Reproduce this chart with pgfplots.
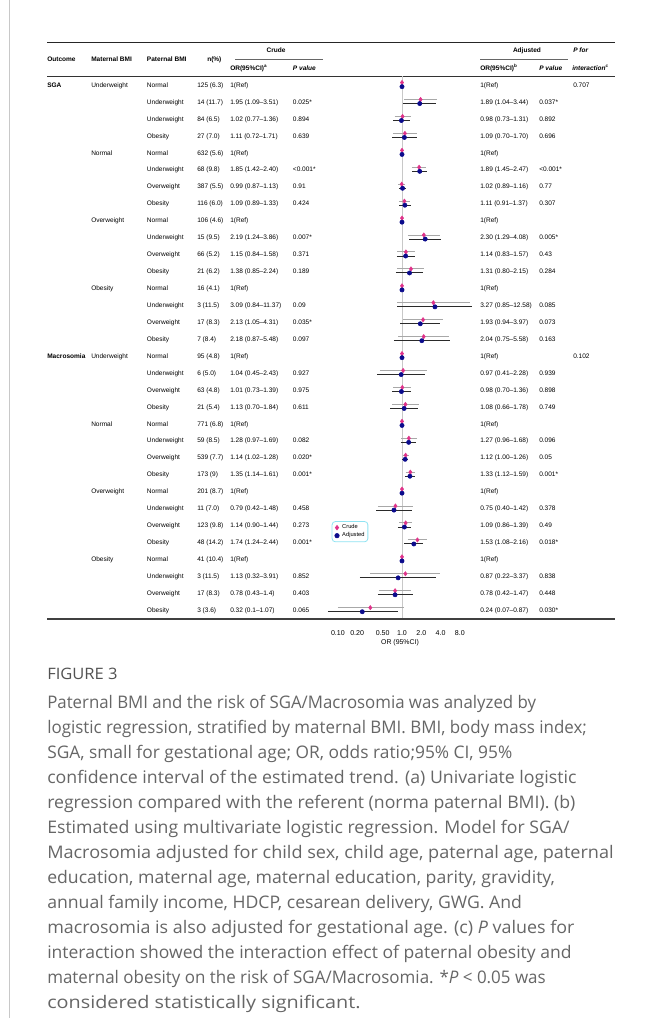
\documentclass[border=0pt]{standalone}
\usepackage{fontspec}
\usepackage{graphicx}
\setmainfont{Liberation Sans}
\newfontfamily\capfont{Open Sans}
\usepackage{pgfplots}
\pgfplotsset{compat=1.18}
\definecolor{crudec}{HTML}{E0338A}
\definecolor{adjc}{HTML}{0B0B8C}
\definecolor{cigrey}{HTML}{A8A8A8}
\definecolor{cidark}{HTML}{2A2A2A}
\definecolor{refline}{HTML}{C8C8C8}
\definecolor{capgrey}{HTML}{666666}
\definecolor{legbord}{HTML}{8FE3F2}
\newcommand{\tf}{\fontsize{4.9}{5.9}\selectfont}
\newcommand{\hf}{\fontsize{4.9}{5.9}\selectfont\bfseries}
\newcommand{\cf}{\capfont\fontsize{13}{15}\selectfont\color{capgrey}}
\tikzset{tc/.style={anchor=base west, inner sep=0pt, font=\tf},
         hc/.style={anchor=base west, inner sep=0pt, font=\hf},
         cl/.style={anchor=base west, inner sep=0pt, font=\cf}}
% row text: #1 row index, #2 paternal BMI, #3 n, #4 crude OR, #5 crude P, #6 adj OR, #7 adj P
\newcommand{\trow}[7]{%
  \node[tc] at (146.7,{85+(#1-1)*16.935+2.3}) {#2};
  \node[tc] at (197,{85+(#1-1)*16.935+2.3}) {#3};
  \node[tc] at (230,{85+(#1-1)*16.935+2.3}) {#4};
  \node[tc] at (292.7,{85+(#1-1)*16.935+2.3}) {#5};
  \node[tc] at (480,{85+(#1-1)*16.935+2.3}) {#6};
  \node[tc] at (539,{85+(#1-1)*16.935+2.3}) {#7};
}
\newcommand{\grp}[2]{\node[tc] at (91,{85+(#1-1)*16.935+2.3}) {#2};}
\newcommand{\capline}[3]{\node[cl] at (47,#1) {\scalebox{#2}[1]{#3}};}
\begin{document}
\begin{tikzpicture}
\begin{scope}[x=0.75pt,y=-0.75pt]
\path[use as bounding box, fill=white] (0,0) rectangle (646,1018);
\draw[refline, line width=0.8pt] (9.5,0) -- (9.5,1018);
% rules
\draw[line width=1.1pt, color=black!85] (47,42.7) -- (615,42.7);
\draw[line width=0.7pt, color=black!80] (47,76.3) -- (615,76.3);
\draw[line width=0.5pt, color=black!60] (235,59.3) -- (323,59.3);
\draw[line width=0.5pt, color=black!60] (480,59.3) -- (568,59.3);
% header
\node[hc] at (47,61.3) {Outcome};
\node[hc] at (91,61.3) {Maternal BMI};
\node[hc] at (146.7,61.3) {Paternal BMI};
\node[hc] at (207,61.3) {n(\%)};
\node[hc, anchor=base] at (276,52.3) {Crude};
\node[hc, anchor=base] at (527,52.3) {Adjusted};
\node[hc] at (573,52.3) {\itshape P for};
\node[hc] at (230,70.5) {OR(95\%CI)\textsuperscript{a}};
\node[hc] at (292.7,70.5) {\itshape P value};
\node[hc] at (480,70.5) {OR(95\%CI)\textsuperscript{b}};
\node[hc] at (539,70.5) {\itshape P value};
\node[hc] at (572,70.5) {\itshape interaction\textsuperscript{c}};
% group labels
\node[hc] at (47,87.3) {SGA};
\node[hc] at (47,{85+16*16.935+2.3}) {Macrosomia};
\grp{1}{Underweight}
\grp{5}{Normal}
\grp{9}{Overweight}
\grp{13}{Obesity}
\grp{17}{Underweight}
\grp{21}{Normal}
\grp{25}{Overweight}
\grp{29}{Obesity}
% rows
\trow{1}{Normal}{125 (6.3)}{1(Ref)}{}{1(Ref)}{}
\trow{2}{Underweight}{14 (11.7)}{1.95 (1.09–3.51)}{0.025*}{1.89 (1.04–3.44)}{0.037*}
\trow{3}{Underweight}{84 (6.5)}{1.02 (0.77–1.36)}{0.894}{0.98 (0.73–1.31)}{0.892}
\trow{4}{Obesity}{27 (7.0)}{1.11 (0.72–1.71)}{0.639}{1.09 (0.70–1.70)}{0.696}
\trow{5}{Normal}{632 (5.6)}{1(Ref)}{}{1(Ref)}{}
\trow{6}{Underweight}{68 (9.8)}{1.85 (1.42–2.40)}{<0.001*}{1.89 (1.45–2.47)}{<0.001*}
\trow{7}{Overweight}{387 (5.5)}{0.99 (0.87–1.13)}{0.91}{1.02 (0.89–1.16)}{0.77}
\trow{8}{Obesity}{116 (6.0)}{1.09 (0.89–1.33)}{0.424}{1.11 (0.91–1.37)}{0.307}
\trow{9}{Normal}{106 (4.6)}{1(Ref)}{}{1(Ref)}{}
\trow{10}{Underweight}{15 (9.5)}{2.19 (1.24–3.86)}{0.007*}{2.30 (1.29–4.08)}{0.005*}
\trow{11}{Overweight}{66 (5.2)}{1.15 (0.84–1.58)}{0.371}{1.14 (0.83–1.57)}{0.43}
\trow{12}{Obesity}{21 (6.2)}{1.38 (0.85–2.24)}{0.189}{1.31 (0.80–2.15)}{0.284}
\trow{13}{Normal}{16 (4.1)}{1(Ref)}{}{1(Ref)}{}
\trow{14}{Underweight}{3 (11.5)}{3.09 (0.84–11.37)}{0.09}{3.27 (0.85–12.58)}{0.085}
\trow{15}{Overweight}{17 (8.3)}{2.13 (1.05–4.31)}{0.035*}{1.93 (0.94–3.97)}{0.073}
\trow{16}{Obesity}{7 (8.4)}{2.18 (0.87–5.48)}{0.097}{2.04 (0.75–5.58)}{0.163}
\trow{17}{Normal}{95 (4.8)}{1(Ref)}{}{1(Ref)}{}
\trow{18}{Underweight}{6 (5.0)}{1.04 (0.45–2.43)}{0.927}{0.97 (0.41–2.28)}{0.939}
\trow{19}{Overweight}{63 (4.8)}{1.01 (0.73–1.39)}{0.975}{0.98 (0.70–1.36)}{0.898}
\trow{20}{Obesity}{21 (5.4)}{1.13 (0.70–1.84)}{0.611}{1.08 (0.66–1.78)}{0.749}
\trow{21}{Normal}{771 (6.8)}{1(Ref)}{}{1(Ref)}{}
\trow{22}{Underweight}{59 (8.5)}{1.28 (0.97–1.69)}{0.082}{1.27 (0.96–1.68)}{0.096}
\trow{23}{Overweight}{539 (7.7)}{1.14 (1.02–1.28)}{0.020*}{1.12 (1.00–1.26)}{0.05}
\trow{24}{Obesity}{173 (9)}{1.35 (1.14–1.61)}{0.001*}{1.33 (1.12–1.59)}{0.001*}
\trow{25}{Normal}{201 (8.7)}{1(Ref)}{}{1(Ref)}{}
\trow{26}{Underweight}{11 (7.0)}{0.79 (0.42–1.48)}{0.458}{0.75 (0.40–1.42)}{0.378}
\trow{27}{Overweight}{123 (9.8)}{1.14 (0.90–1.44)}{0.273}{1.09 (0.86–1.39)}{0.49}
\trow{28}{Obesity}{48 (14.2)}{1.74 (1.24–2.44)}{0.001*}{1.53 (1.08–2.16)}{0.018*}
\trow{29}{Normal}{41 (10.4)}{1(Ref)}{}{1(Ref)}{}
\trow{30}{Underweight}{3 (11.5)}{1.13 (0.32–3.91)}{0.852}{0.87 (0.22–3.37)}{0.838}
\trow{31}{Overweight}{17 (8.3)}{0.78 (0.43–1.4)}{0.403}{0.78 (0.42–1.47)}{0.448}
\trow{32}{Obesity}{3 (3.6)}{0.32 (0.1–1.07)}{0.065}{0.24 (0.07–0.87)}{0.030*}
\node[tc] at (573,87.3) {0.707};
\node[tc] at (573,{85+16*16.935+2.3}) {0.102};
\node[anchor=base, inner sep=0pt, font=\fontsize{5.2}{6}\selectfont] at (400,644) {OR (95\%CI)};
% caption
\node[anchor=base west, inner sep=0pt, font=\capfont\fontsize{11.8}{13}\selectfont\color{black!68}] at (47,679) {\scalebox{1.05}[1]{FIGURE 3}};
\capline{708}{0.971}{Paternal BMI and the risk of SGA/Macrosomia was analyzed by}
\capline{733}{0.976}{logistic regression, stratified by maternal BMI. BMI, body mass index;}
\capline{758}{1.0}{SGA, small for gestational age; OR, odds ratio;95\% CI, 95\%}
\capline{783}{1.023}{confidence interval of the estimated trend. (a) Univariate logistic}
\capline{808}{1.019}{regression compared with the referent (norma paternal BMI). (b)}
\capline{833}{1.019}{Estimated using multivariate logistic regression. Model for SGA/}
\capline{858}{1.043}{Macrosomia adjusted for child sex, child age, paternal age, paternal}
\capline{883}{1.018}{education, maternal age, maternal education, parity, gravidity,}
\capline{908}{1.018}{annual family income, HDCP, cesarean delivery, GWG. And}
\capline{933}{1.032}{macrosomia is also adjusted for gestational age. (c) \textit{P} values for}
\capline{958}{1.011}{interaction showed the interaction effect of paternal obesity and}
\capline{983}{0.978}{maternal obesity on the risk of SGA/Macrosomia. *\textit{P} < 0.05 was}
\capline{1008}{1.144}{considered statistically significant.}
\end{scope}
% forest plot
\begin{axis}[
  at={(238.95pt,-464.25pt)}, anchor=south west,
  scale only axis, width=120.43pt, height=406.9pt,
  xmode=log, xmin=0.05, xmax=16,
  ymin=0.5, ymax=32.53, y dir=reverse,
  axis line style={draw=none}, major tick length=0pt, tick style={draw=none},
  ytick=\empty,
  xtick={0.1,0.2,0.5,1,2,4,8},
  xticklabels={0.10,0.20,0.50,1.0,2.0,4.0,8.0},
  xticklabel style={font=\fontsize{5.3}{6}\selectfont, yshift=-5pt},
  clip=false,
  unbounded coords=jump,
  legend style={at={(axis cs:0.08,26.75)}, anchor=north west,
     draw=legbord, rounded corners=2.5pt, line width=0.6pt,
     font=\fontsize{4.3}{5}\selectfont, inner xsep=2pt, inner ysep=1.8pt,
     nodes={inner sep=0.5pt},
     row sep=0.4pt, legend cell align=left},
  legend image code/.code={\path[draw=none,fill=none] (0cm,0cm) -- (0.18cm,0cm); \draw[#1] plot coordinates {(0.06cm,0cm)};},
]
\addplot[forget plot, refline, line width=0.6pt] coordinates {(1,0.5) (1,32.53)};
% crude CI
\addplot[forget plot, cigrey, line width=0.75pt] coordinates {
 (1.09,1.86) (3.51,1.86) (nan,nan)
 (0.77,2.86) (1.36,2.86) (nan,nan)
 (0.72,3.86) (1.71,3.86) (nan,nan)
 (1.42,5.86) (2.40,5.86) (nan,nan)
 (0.87,6.86) (1.13,6.86) (nan,nan)
 (0.89,7.86) (1.33,7.86) (nan,nan)
 (1.24,9.86) (3.86,9.86) (nan,nan)
 (0.84,10.86) (1.58,10.86) (nan,nan)
 (0.85,11.86) (2.24,11.86) (nan,nan)
 (0.84,13.86) (11.37,13.86) (nan,nan)
 (1.05,14.86) (4.31,14.86) (nan,nan)
 (0.87,15.86) (5.48,15.86) (nan,nan)
 (0.45,17.86) (2.43,17.86) (nan,nan)
 (0.73,18.86) (1.39,18.86) (nan,nan)
 (0.70,19.86) (1.84,19.86) (nan,nan)
 (0.97,21.86) (1.69,21.86) (nan,nan)
 (1.02,22.86) (1.28,22.86) (nan,nan)
 (1.14,23.86) (1.61,23.86) (nan,nan)
 (0.42,25.86) (1.48,25.86) (nan,nan)
 (0.90,26.86) (1.44,26.86) (nan,nan)
 (1.24,27.86) (2.44,27.86) (nan,nan)
 (0.32,29.86) (3.91,29.86) (nan,nan)
 (0.43,30.86) (1.40,30.86) (nan,nan)
 (0.10,31.86) (1.07,31.86)
};
% adjusted CI
\addplot[forget plot, cidark, line width=0.75pt] coordinates {
 (1.04,2.1) (3.44,2.1) (nan,nan)
 (0.73,3.1) (1.31,3.1) (nan,nan)
 (0.70,4.1) (1.70,4.1) (nan,nan)
 (1.45,6.1) (2.47,6.1) (nan,nan)
 (0.89,7.1) (1.16,7.1) (nan,nan)
 (0.91,8.1) (1.37,8.1) (nan,nan)
 (1.29,10.1) (4.08,10.1) (nan,nan)
 (0.83,11.1) (1.57,11.1) (nan,nan)
 (0.80,12.1) (2.15,12.1) (nan,nan)
 (0.85,14.1) (12.58,14.1) (nan,nan)
 (0.94,15.1) (3.97,15.1) (nan,nan)
 (0.75,16.1) (5.58,16.1) (nan,nan)
 (0.41,18.1) (2.28,18.1) (nan,nan)
 (0.70,19.1) (1.36,19.1) (nan,nan)
 (0.66,20.1) (1.78,20.1) (nan,nan)
 (0.96,22.1) (1.68,22.1) (nan,nan)
 (1.00,23.1) (1.26,23.1) (nan,nan)
 (1.12,24.1) (1.59,24.1) (nan,nan)
 (0.40,26.1) (1.42,26.1) (nan,nan)
 (0.86,27.1) (1.39,27.1) (nan,nan)
 (1.08,28.1) (2.16,28.1) (nan,nan)
 (0.22,30.1) (3.37,30.1) (nan,nan)
 (0.42,31.1) (1.47,31.1) (nan,nan)
 (0.07,32.1) (0.87,32.1)
};
\addplot[only marks, mark=diamond*, mark size=1.6pt, color=crudec] coordinates {
 (1,0.86) (1.95,1.86) (1.02,2.86) (1.11,3.86) (1,4.86) (1.85,5.86) (0.99,6.86) (1.09,7.86)
 (1,8.86) (2.19,9.86) (1.15,10.86) (1.38,11.86) (1,12.86) (3.09,13.86) (2.13,14.86) (2.18,15.86)
 (1,16.86) (1.04,17.86) (1.01,18.86) (1.13,19.86) (1,20.86) (1.28,21.86) (1.14,22.86) (1.35,23.86)
 (1,24.86) (0.79,25.86) (1.14,26.86) (1.74,27.86) (1,28.86) (1.13,29.86) (0.78,30.86) (0.32,31.86)
};
\addlegendentry{Crude}
\addplot[only marks, mark=*, mark size=1.6pt, color=adjc] coordinates {
 (1,1.1) (1.89,2.1) (0.98,3.1) (1.09,4.1) (1,5.1) (1.89,6.1) (1.02,7.1) (1.11,8.1)
 (1,9.1) (2.30,10.1) (1.14,11.1) (1.31,12.1) (1,13.1) (3.27,14.1) (1.93,15.1) (2.04,16.1)
 (1,17.1) (0.97,18.1) (0.98,19.1) (1.08,20.1) (1,21.1) (1.27,22.1) (1.12,23.1) (1.33,24.1)
 (1,25.1) (0.75,26.1) (1.09,27.1) (1.53,28.1) (1,29.1) (0.87,30.1) (0.78,31.1) (0.24,32.1)
};
\addlegendentry{Adjusted}
\end{axis}
\begin{scope}[x=0.75pt,y=-0.75pt]
\draw[line width=1.5pt, color=black!75] (47,619) -- (615,619);
\end{scope}
\end{tikzpicture}
\end{document}
